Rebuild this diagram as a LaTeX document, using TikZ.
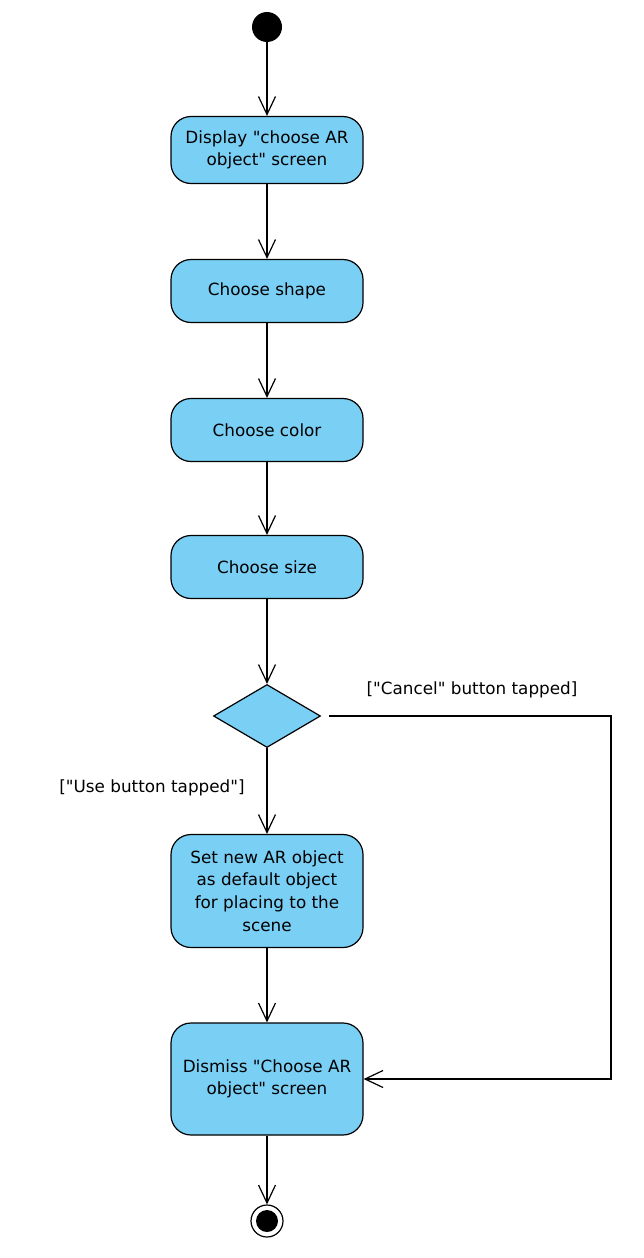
\documentclass[tikz,border=0pt]{standalone}
\usepackage{fontspec}
\setmainfont{DejaVu Sans}[Ligatures=TeXOff]
\usetikzlibrary{shapes.geometric,arrows.meta}
\definecolor{actblue}{RGB}{122,207,245}
\tikzset{
  activity/.style={draw, fill=actblue, rounded corners=20pt, line width=1.2pt,
    minimum width=192pt, align=center, inner sep=4pt,
    font=\fontsize{16.8}{22.7}\selectfont},
  decision/.style={draw, fill=actblue, diamond, line width=1.2pt, inner sep=0pt,
    minimum width=107pt, minimum height=63pt},
  initial/.style={circle, fill=black, minimum size=30pt, inner sep=0pt},
  final/.style={circle, draw, line width=1.2pt, minimum size=32pt, inner sep=0pt,
    path picture={\fill (path picture bounding box.center) circle (11pt);}},
  guard/.style={font=\fontsize{16.8}{22.7}\selectfont},
  flow/.style={-{Straight Barb[length=18pt,width=17pt]}, line width=1.2pt}
}
\begin{document}
\begin{tikzpicture}[x=1pt,y=-1pt]
        \useasboundingbox (0,0) rectangle (644,1258);

        % Nodes
        \node[initial] (start) at (267,27) {};
        \node[activity, minimum height=67pt] (display) at (267,150) {Display "choose AR\\object" screen};
        \node[activity, minimum height=63pt] (shape) at (267,291) {Choose shape};
        \node[activity, minimum height=63pt] (color) at (267,430) {Choose color};
        \node[activity, minimum height=63pt] (size) at (267,567) {Choose size};
        \node[decision] (decide) at (267,716) {};
        \node[activity, minimum height=113pt] (setdefault) at (267,891) {Set new AR object\\as default object\\for placing to the\\scene};
        \node[activity, minimum height=112pt] (dismiss) at (267,1079) {Dismiss "Choose AR\\object" screen};
        \node[final] (stop) at (267,1221) {};

        % Guards
        \node[guard] (cancellbl) at (472,690) {["Cancel" button tapped]};
        \node[guard] (uselbl) at (152,788) {["Use button tapped"]};

        % Flows
        \draw[flow] (start) -- (display);
        \draw[flow] (display) -- (shape);
        \draw[flow] (shape) -- (color);
        \draw[flow] (color) -- (size);
        \draw[flow] (size) -- (decide);
        \draw[flow] (decide) -- (setdefault);
        \draw[flow] (setdefault) -- (dismiss);
        \draw[flow] (dismiss) -- (stop);

        % Cancel branch
        \coordinate (turn) at (611,716);
        \draw[flow] ([xshift=8pt]decide.east) -- (turn) |- (dismiss.east);
    \end{tikzpicture}
\end{document}
